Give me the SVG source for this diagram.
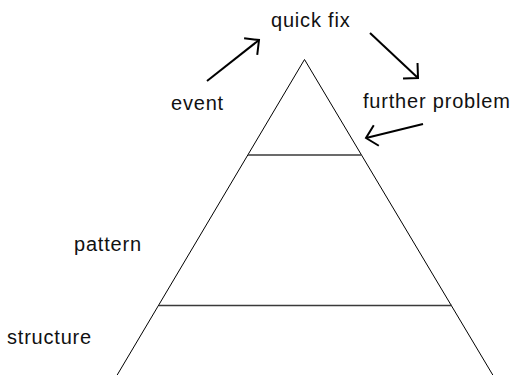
<svg xmlns="http://www.w3.org/2000/svg" width="516" height="375" viewBox="0 0 516 375">
  <style>
    .label { font-family: "Liberation Sans", Arial, Helvetica, sans-serif; font-size: 20px; letter-spacing: 0.8px; fill: #111; }
    .side { fill: none; stroke: #000; stroke-width: 1; }
    .tier { fill: none; stroke: #3a3a3a; stroke-width: 1.4; }
    .arrow { fill: none; stroke: #000; stroke-width: 2; marker-end: url(#open-head); }
  </style>
  <defs>
    <marker id="open-head" markerUnits="userSpaceOnUse" markerWidth="30" markerHeight="30" refX="0" refY="0" orient="auto" overflow="visible">
      <path d="M -10.6 -10.6 L 0 0 L -10.6 10.6" fill="none" stroke="#000" stroke-width="2"/>
    </marker>
  </defs>
  <rect width="516" height="375" fill="#fff"/>

  <!-- pyramid outline and tiers -->
  <g id="pyramid">
    <path class="side" d="M 116 377 L 304.5 59.5 L 494 377"/>
    <line class="tier" x1="248" y1="155" x2="361" y2="155"/>
    <line class="tier" x1="159" y1="305.5" x2="452" y2="305.5"/>
  </g>

  <g id="node-quick-fix"><text class="label" x="271" y="27">quick fix</text></g>
  <g id="node-event"><text class="label" x="171" y="110">event</text></g>
  <g id="node-further-problem"><text class="label" x="363" y="108">further problem</text></g>
  <g id="node-pattern"><text class="label" x="74" y="251">pattern</text></g>
  <g id="node-structure"><text class="label" x="7" y="344">structure</text></g>

  <!-- connectors -->
  <g id="connectors">
    <line class="arrow" x1="207" y1="81" x2="259" y2="40"/>
    <line class="arrow" x1="370" y1="33" x2="418" y2="78"/>
    <line class="arrow" x1="423" y1="124" x2="366" y2="138"/>
  </g>
</svg>
